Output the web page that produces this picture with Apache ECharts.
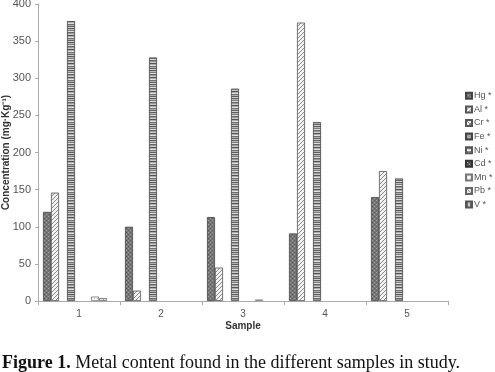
<!DOCTYPE html>
<html><head><meta charset="utf-8">
<script src="https://cdn.jsdelivr.net/npm/echarts@6/dist/echarts.min.js"></script>
<style>html,body{margin:0;padding:0;background:#fff}#c{width:495px;height:372px}</style>
</head><body><div id="c"></div>
<script>
var categories = ['1','2','3','4','5'];
var seriesNames = ['Hg *','Al *','Cr *','Fe *','Ni *','Cd *','Mn *','Pb *','V *'];
var hg = [120, 100, 113, 91, 140];
var al = [146, 14, 45, 375, 175];
var cr = [0, 0, 0, 0, 0];
var fe = [377, 328, 286, 241, 165];
var ni = [0, 0, 0, 0, 0];
var cd = [0, 0, 0, 0, 0];
var mn = [6, 0, 2, 0, 0];
var pb = [4, 0, 0, 0, 0];
var v = [0, 0, 0, 0, 0];
var yTicks = [0, 50, 100, 150, 200, 250, 300, 350, 400];

function pat(w, h, draw) {
  var c = document.createElement('canvas');
  c.width = w; c.height = h;
  var ctx = c.getContext('2d');
  draw(ctx, w, h);
  return { image: c, repeat: 'repeat' };
}
var patterns = [
  // Hg: dark stipple
  pat(4, 4, function (x, w, h) {
    x.fillStyle = '#767676'; x.fillRect(0, 0, w, h);
    x.fillStyle = '#a0a0a0'; x.fillRect(0, 0, 1, 1); x.fillRect(2, 2, 1, 1);
    x.fillStyle = '#5a5a5a'; x.fillRect(2, 0, 1, 1); x.fillRect(0, 2, 1, 1);
  }),
  // Al: diagonal hatch
  pat(4, 4, function (x, w, h) {
    x.fillStyle = '#f2f2f2'; x.fillRect(0, 0, w, h);
    x.fillStyle = '#8a8a8a';
    x.fillRect(3, 0, 1, 1); x.fillRect(2, 1, 1, 1); x.fillRect(1, 2, 1, 1); x.fillRect(0, 3, 1, 1);
  }),
  // Cr: cross hatch light
  pat(4, 4, function (x, w, h) {
    x.fillStyle = '#eee'; x.fillRect(0, 0, w, h);
    x.fillStyle = '#888';
    x.fillRect(0, 0, 1, 1); x.fillRect(1, 1, 1, 1); x.fillRect(2, 2, 1, 1); x.fillRect(3, 3, 1, 1);
    x.fillRect(3, 0, 1, 1); x.fillRect(0, 3, 1, 1);
  }),
  // Fe: horizontal irregular stripes
  pat(8, 14, function (x, w, h) {
    var rows = ['#5a5a5a', '#bbb', '#7a7a7a', '#ddd', '#666', '#9a9a9a', '#c8c8c8', '#555', '#aaa', '#e0e0e0', '#707070', '#b0b0b0', '#606060', '#cfcfcf'];
    for (var i = 0; i < rows.length; i++) { x.fillStyle = rows[i]; x.fillRect(0, i, w, 1); }
  }),
  // Ni: horizontal lines
  pat(4, 3, function (x, w, h) {
    x.fillStyle = '#f4f4f4'; x.fillRect(0, 0, w, h);
    x.fillStyle = '#666'; x.fillRect(0, 1, w, 1);
  }),
  // Cd: dark cross
  pat(4, 4, function (x, w, h) {
    x.fillStyle = '#555'; x.fillRect(0, 0, w, h);
    x.fillStyle = '#bbb'; x.fillRect(1, 1, 1, 1); x.fillRect(3, 3, 1, 1);
  }),
  // Mn: light dots
  pat(3, 3, function (x, w, h) {
    x.fillStyle = '#f7f7f7'; x.fillRect(0, 0, w, h);
    x.fillStyle = '#bbb'; x.fillRect(1, 1, 1, 1);
  }),
  // Pb: light diagonal
  pat(4, 4, function (x, w, h) {
    x.fillStyle = '#e8e8e8'; x.fillRect(0, 0, w, h);
    x.fillStyle = '#999'; x.fillRect(0, 0, 1, 1); x.fillRect(1, 1, 1, 1); x.fillRect(2, 2, 1, 1); x.fillRect(3, 3, 1, 1);
  }),
  // V: vertical stripes
  pat(3, 3, function (x, w, h) {
    x.fillStyle = '#ccc'; x.fillRect(0, 0, w, h);
    x.fillStyle = '#666'; x.fillRect(1, 0, 1, h);
  })
];
var seriesData = [hg, al, cr, fe, ni, cd, mn, pb, v];
var borderColors = ['#444', '#555', '#555', '#444', '#555', '#333', '#777', '#666', '#555'];

var series = seriesData.map(function (d, i) {
  return {
    name: seriesNames[i], type: 'bar',
    // zero values draw no bar, as in the reference
    data: d.map(function (val) { return val === 0 ? null : val; }),
    barWidth: 8, barGap: '0%',
    itemStyle: { color: patterns[i], borderColor: borderColors[i], borderWidth: 0.8 },
    emphasis: { disabled: true }, animation: false
  };
});

var chart = echarts.init(document.getElementById('c'), null, { renderer: 'canvas' });
chart.setOption({
  animation: false,
  textStyle: { fontFamily: 'Liberation Sans, Arial, sans-serif' },
  grid: { left: 38, right: 47, top: 4, bottom: 71, containLabel: false, outerBoundsMode: 'none' },
  xAxis: {
    type: 'category', data: categories,
    name: 'Sample', nameLocation: 'middle', nameGap: 20, nameMoveOverlap: false,
    nameTextStyle: { fontSize: 10, fontWeight: 'bold', color: '#333' },
    axisLine: { lineStyle: { color: '#aaa', width: 1 } },
    axisTick: { show: true, length: 4, lineStyle: { color: '#aaa' } },
    axisLabel: { fontSize: 10, color: '#555', margin: 8 }
  },
  yAxis: {
    type: 'value', min: yTicks[0], max: yTicks[yTicks.length - 1], interval: 50,
    name: 'Concentration (mg·Kg⁻¹)', nameLocation: 'middle', nameGap: 27, nameRotate: 90,
    nameMoveOverlap: false,
    nameTextStyle: { fontSize: 10, fontWeight: 'bold', color: '#333' },
    axisLine: { show: true, lineStyle: { color: '#aaa', width: 1 } },
    axisTick: { show: true, length: 3, lineStyle: { color: '#aaa' } },
    axisLabel: { fontSize: 11, color: '#555', margin: 7 },
    splitLine: { show: false }
  },
  legend: {
    orient: 'vertical', left: 460, top: 86,
    itemWidth: 6, itemHeight: 6, itemGap: 4, icon: 'rect',
    textStyle: { fontSize: 9, color: '#555', lineHeight: 9.6, padding: [0, 0, 0, -3] },
    data: seriesNames,
    selectedMode: false
  },
  graphic: [{
    type: 'text', left: 2, top: 354,
    style: {
      text: '{b|Figure 1.} Metal content found in the different samples in study.',
      rich: {
        b: { fontWeight: 'bold', fontFamily: 'Liberation Serif, Times New Roman, serif', fontSize: 18, fill: '#111' }
      },
      fontFamily: 'Liberation Serif, Times New Roman, serif', fontSize: 18, fill: '#111'
    }
  }],
  series: series
});
</script></body></html>
